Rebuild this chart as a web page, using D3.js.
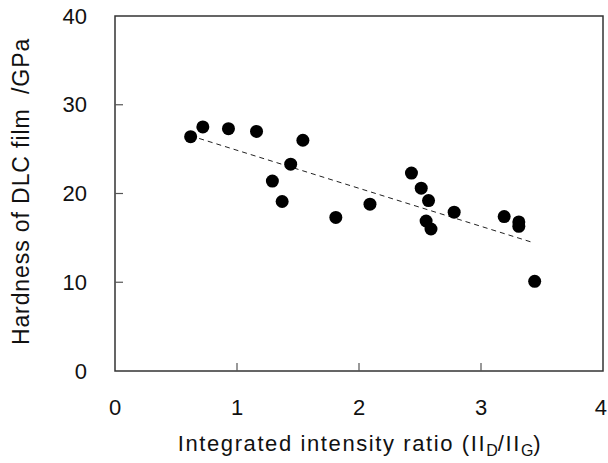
<!DOCTYPE html>
<meta charset="utf-8">
<style>
  body { margin: 0; background: #fff; }
  text { font-family: "Liberation Sans", Arial, sans-serif; fill: #111; }
</style>
<script src="https://d3js.org/d3.v7.min.js"></script>
<div id="vis"></div>
<script>

var ratio    = [0.62, 0.72, 0.93, 1.16, 1.29, 1.37, 1.44, 1.54, 1.81, 2.09, 2.43, 2.51, 2.57, 2.55, 2.59, 2.78, 3.19, 3.31, 3.31, 3.44]
var hardness = [26.4, 27.5, 27.3, 27.0, 21.4, 19.1, 23.3, 26.0, 17.3, 18.8, 22.3, 20.6, 19.2, 16.9, 16.0, 17.9, 17.4, 16.8, 16.3, 10.1]

var fitX = [0.69, 3.42]
var fitY = [26.2, 14.5]

var xTicks = [0, 1, 2, 3, 4]
var yTicks = [0, 10, 20, 30, 40]

var width = 608
    height = 463
    margin = {top: 16, right: 5, bottom: 92, left: 115}

var w = width - margin.left - margin.right
var h = height - margin.top - margin.bottom

var svg = d3.select("#vis")
  .append("svg")
    .attr("width", width)
    .attr("height", height)

var g = svg.append("g")
    .attr("transform", "translate(" + margin.left + "," + margin.top + ")")

var x = d3.scaleLinear().domain([0, 4]).range([0, w])
var y = d3.scaleLinear().domain([0, 40]).range([h, 0])

// frame
g.append("rect")
    .attr("width", w)
    .attr("height", h)
    .attr("fill", "none")
    .attr("stroke", "#333")
    .attr("stroke-width", 1.5)

// inward ticks
g.selectAll(".xt")
  .data(xTicks.slice(1, -1))
  .enter().append("line")
    .attr("x1", function(d){ return x(d) })
    .attr("x2", function(d){ return x(d) })
    .attr("y1", h)
    .attr("y2", h - 8)
    .attr("stroke", "#555")
    .attr("stroke-width", 1.2)

g.selectAll(".yt")
  .data(yTicks.slice(1, -1))
  .enter().append("line")
    .attr("x1", 0)
    .attr("x2", 8)
    .attr("y1", function(d){ return y(d) })
    .attr("y2", function(d){ return y(d) })
    .attr("stroke", "#555")
    .attr("stroke-width", 1.2)

// tick labels
g.selectAll(".xl")
  .data(xTicks)
  .enter().append("text")
    .attr("x", function(d, i){ return i == xTicks.length - 1 ? x(d) + 4 : x(d) })
    .attr("y", h + 44)
    .attr("text-anchor", function(d, i){ return i == xTicks.length - 1 ? "end" : "middle" })
    .style("font-size", "22px")
    .text(function(d){ return d })

g.selectAll(".yl")
  .data(yTicks)
  .enter().append("text")
    .attr("x", -28)
    .attr("y", function(d){ return y(d) })
    .attr("dy", "0.35em")
    .attr("text-anchor", "end")
    .style("font-size", "22px")
    .text(function(d){ return d })

// trend line
g.append("line")
    .attr("x1", x(fitX[0]))
    .attr("y1", y(fitY[0]))
    .attr("x2", x(fitX[1]))
    .attr("y2", y(fitY[1]))
    .attr("stroke", "#222")
    .attr("stroke-width", 1)
    .attr("stroke-dasharray", "5,4")

// points
g.selectAll("circle")
  .data(ratio)
  .enter().append("circle")
    .attr("cx", function(d){ return x(d) })
    .attr("cy", function(d, i){ return y(hardness[i]) })
    .attr("r", 6.5)
    .attr("fill", "#000")

// axis titles
var xt = svg.append("text")
    .attr("x", 360)
    .attr("y", 451)
    .attr("text-anchor", "middle")
    .style("font-size", "22px")
    .style("letter-spacing", "1.6px")
xt.append("tspan").text("Integrated intensity ratio (II")
xt.append("tspan").attr("dy", 5).style("font-size", "16px").style("letter-spacing", "0px").text("D")
xt.append("tspan").attr("dy", -5).text("/II")
xt.append("tspan").attr("dy", 5).style("font-size", "16px").style("letter-spacing", "0px").text("G")
xt.append("tspan").attr("dy", -5).text(")")

svg.append("text")
    .attr("transform", "translate(29," + (margin.top + h / 2 - 2) + ") rotate(-90)")
    .attr("text-anchor", "middle")
    .style("font-size", "23px")
    .style("letter-spacing", "0.9px")
    .style("white-space", "pre")
    .text("Hardness of DLC film  /GPa")

</script>
